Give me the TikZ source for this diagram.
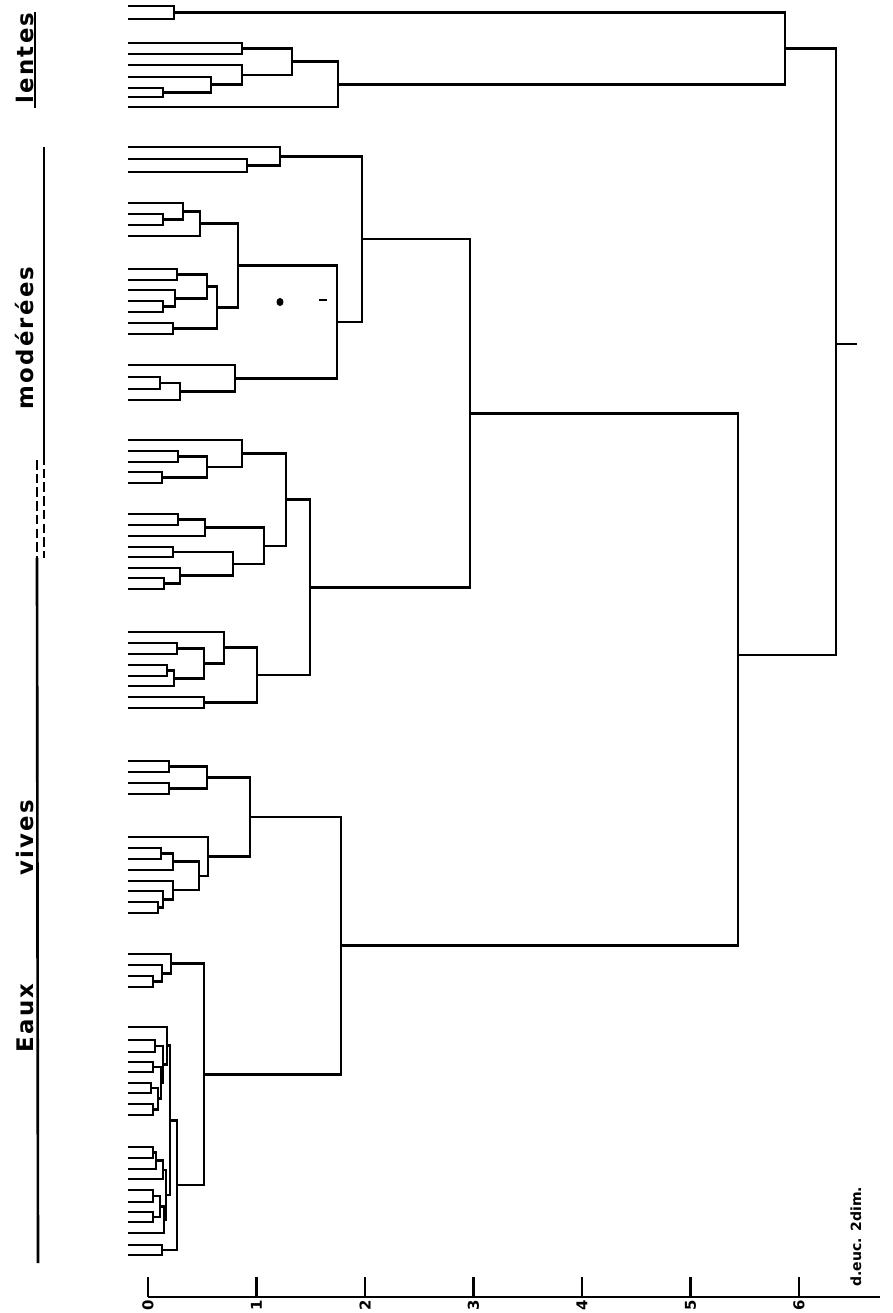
\documentclass[tikz,border=0pt]{standalone}
\usepackage{fontspec}
\setsansfont{DejaVu Sans}
\newfontfamily\groupfont{DejaVu Sans}[LetterSpace=10]
\usetikzlibrary{calc}

% one clade: name, merge level (x), upper child, lower child
\newcommand\clade[4]{%
  \path let \p1=($(#3)!0.5!(#4)$), \p2=(#2,0) in coordinate (#1) at (\x2,\y1);
  \draw[link] (#3) -| (#1) |- (#4);}

\begin{document}
\begin{tikzpicture}[x=0.02cm, y=-0.02cm,
    link/.style={line width=1.5pt},
    grouprule/.style={line width=1.5pt},
    brokenrule/.style={grouprule, dash pattern=on 5.5pt off 2.3pt},
    groupname/.style={rotate=90, anchor=base, inner sep=0pt, font=\groupfont\bfseries\fontsize{13}{13}\selectfont},
    ticklabel/.style={rotate=90, anchor=east, inner sep=0pt, font=\sffamily\bfseries\fontsize{8.5}{8.5}\selectfont}
]
    \useasboundingbox (0,0) rectangle (893,1313);

    % leaves
    \foreach \n/\y in {l1/6, l2/19, l3/43, l4/54, l5/65, l6/77, l7/88, l8/97, l9/107,
        m1/147, m2/159, m3/172, m4/203, m5/214, m6/225, m7/236,
        m8/269, m9/280, m10/290, m11/301, m12/312, m13/323, m14/334,
        m15/365, m16/377, m17/389, m18/400,
        p1/440, p2/451, p3/462, p4/472, p5/483,
        q1/514, q2/525, q3/536, q4/547, q5/557, q6/568, q7/578, q8/589,
        r1/632, r2/643, r3/654, r4/665, r5/676, r6/686, r7/697, r8/708,
        w1/761, w2/772, w3/783, w4/794,
        w5/837, w6/848, w7/859, w8/870, w9/881, w10/891, w11/902, w12/913,
        e1/954, e2/965, e3/976, e4/987,
        a1/1027, a2/1040, a3/1052, a4/1062, a5/1072, a6/1083, a7/1093, a8/1104, a9/1115,
        b1/1147, b2/1158, b3/1169, b4/1179, b5/1190, b6/1202, b7/1212, b8/1222,
        b9/1233, b10/1245, b11/1255}
        \coordinate (\n) at (128,\y);

    % lentes
    \clade{La}{174}{l1}{l2}
    \clade{Lb}{242}{l3}{l4}
    \clade{Lc}{163}{l7}{l8}
    \clade{Ld}{211}{l6}{Lc}
    \clade{Le}{242}{l5}{Ld}
    \clade{Lf}{292}{Lb}{Le}
    \clade{Lg}{338}{Lf}{l9}
    \clade{L}{785}{La}{Lg}

    % moderees
    \clade{M1a}{247}{m2}{m3}
    \clade{M1}{280}{m1}{M1a}
    \clade{M2a}{163}{m5}{m6}
    \clade{M2b}{183}{m4}{M2a}
    \clade{M2c}{200}{M2b}{m7}
    \clade{M2d}{177}{m8}{m9}
    \clade{M2e}{163}{m11}{m12}
    \clade{M2f}{175}{m10}{M2e}
    \clade{M2g}{207}{M2d}{M2f}
    \clade{M2h}{173}{m13}{m14}
    \clade{M2i}{217}{M2g}{M2h}
    \clade{M2}{238}{M2c}{M2i}
    \clade{M3a}{160}{m16}{m17}
    \clade{M3b}{180}{M3a}{m18}
    \clade{M3}{235}{m15}{M3b}
    \clade{M23}{337}{M2}{M3}
    \clade{M}{362}{M1}{M23}

    % moderees / vives (dashed zone)
    \clade{P1a}{178}{p2}{p3}
    \clade{P1b}{162}{p4}{p5}
    \clade{P1c}{207}{P1a}{P1b}
    \clade{P1}{242}{p1}{P1c}
    \clade{P2a}{178}{q1}{q2}
    \clade{P2b}{205}{P2a}{q3}
    \clade{P2c}{173}{q4}{q5}
    \clade{P2d}{164}{q7}{q8}
    \clade{P2e}{180}{q6}{P2d}
    \clade{P2f}{233}{P2c}{P2e}
    \clade{P2}{264}{P2b}{P2f}
    \clade{P12}{286}{P1}{P2}
    \clade{P3a}{177}{r2}{r3}
    \clade{P3b}{167}{r4}{r5}
    \clade{P3c}{174}{P3b}{r6}
    \clade{P3d}{204}{P3a}{P3c}
    \clade{P3e}{224}{r1}{P3d}
    \clade{P3f}{204}{r7}{r8}
    \clade{P3}{257}{P3e}{P3f}
    \clade{P}{310}{P12}{P3}
    \clade{MP}{470}{M}{P}

    % vives
    \clade{W1a}{169}{w1}{w2}
    \clade{W1b}{169}{w3}{w4}
    \clade{W1}{207}{W1a}{W1b}
    \clade{W2a}{161}{w6}{w7}
    \clade{W2b}{173}{W2a}{w8}
    \clade{W2c}{158}{w11}{w12}
    \clade{W2d}{163}{w10}{W2c}
    \clade{W2e}{173}{w9}{W2d}
    \clade{W2f}{199}{W2b}{W2e}
    \clade{W2}{208}{w5}{W2f}
    \clade{V}{250}{W1}{W2}

    % Eaux
    \clade{E1a}{153}{e3}{e4}
    \clade{E1b}{162}{e2}{E1a}
    \clade{E1}{171}{e1}{E1b}
    \clade{A1}{155}{a2}{a3}
    \clade{A2}{153}{a4}{a5}
    \clade{A3}{151}{a6}{a7}
    \clade{A4}{153}{a8}{a9}
    \clade{A5}{158}{A3}{A4}
    \clade{A6}{161}{A2}{A5}
    \clade{A7}{163}{A1}{A6}
    \clade{A8}{167}{a1}{A7}
    \clade{B1}{153}{b1}{b2}
    \clade{B2}{156}{B1}{b3}
    \clade{B3}{163}{B2}{b4}
    \clade{B4}{153}{b5}{b6}
    \clade{B5}{153}{b7}{b8}
    \clade{B6}{160}{B4}{B5}
    \clade{B7}{164}{B6}{b9}
    \clade{B8}{162}{b10}{b11}
    \clade{B9}{166}{B3}{B7}
    \clade{A9}{170}{A8}{B9}
    \clade{E2}{177}{A9}{B8}
    \clade{E}{204}{E1}{E2}
    \clade{EV}{341}{V}{E}

    % top levels
    \coordinate (big) at (738,655);
    \draw[link] (MP) -| (big) |- (EV);
    \coordinate (root) at (836,344);
    \draw[link] (L) -| (root) |- (big);
    \coordinate (stem) at (857,344);
    \draw[link] (root) -- (stem);

    % marks
    \fill (280,302) ellipse [x radius=2pt, y radius=2.3pt];
    \draw[link] (319,300) -- (327,300);

    % axis
    \coordinate (ax0) at (148,1297);
    \coordinate (ax1) at (880,1297);
    \draw[link] (ax0) -- (ax1);
    \foreach \d in {0,...,6} {
        \draw[link] ({148+108.5*\d},1277) -- ({148+108.5*\d},1297);
        \node[ticklabel] (t\d) at ({148+108.5*\d},1300) {\d};
    }
    \node[rotate=90, anchor=base west, inner sep=0pt, font=\sffamily\bfseries\fontsize{8}{8}\selectfont] (unit) at (861,1287) {d.euc. 2dim.};

    % groups
    \node[groupname] (lentes) at (33,58) {lentes};
    \draw[grouprule] (35,12) -- (35,108);
    \node[groupname] (moderees) at (33,338) {modérées};
    \draw[grouprule] (44,147) -- (44,455);
    \draw[brokenrule] (44,455) -- (44,558);
    \draw[brokenrule] (37,460) -- (37,558);
    \draw[grouprule] (37,558) -- (38,1263);
    \node[groupname] (vives) at (33,838) {vives};
    \node[groupname] (eaux) at (33,1018) {Eaux};
\end{tikzpicture}
\end{document}
